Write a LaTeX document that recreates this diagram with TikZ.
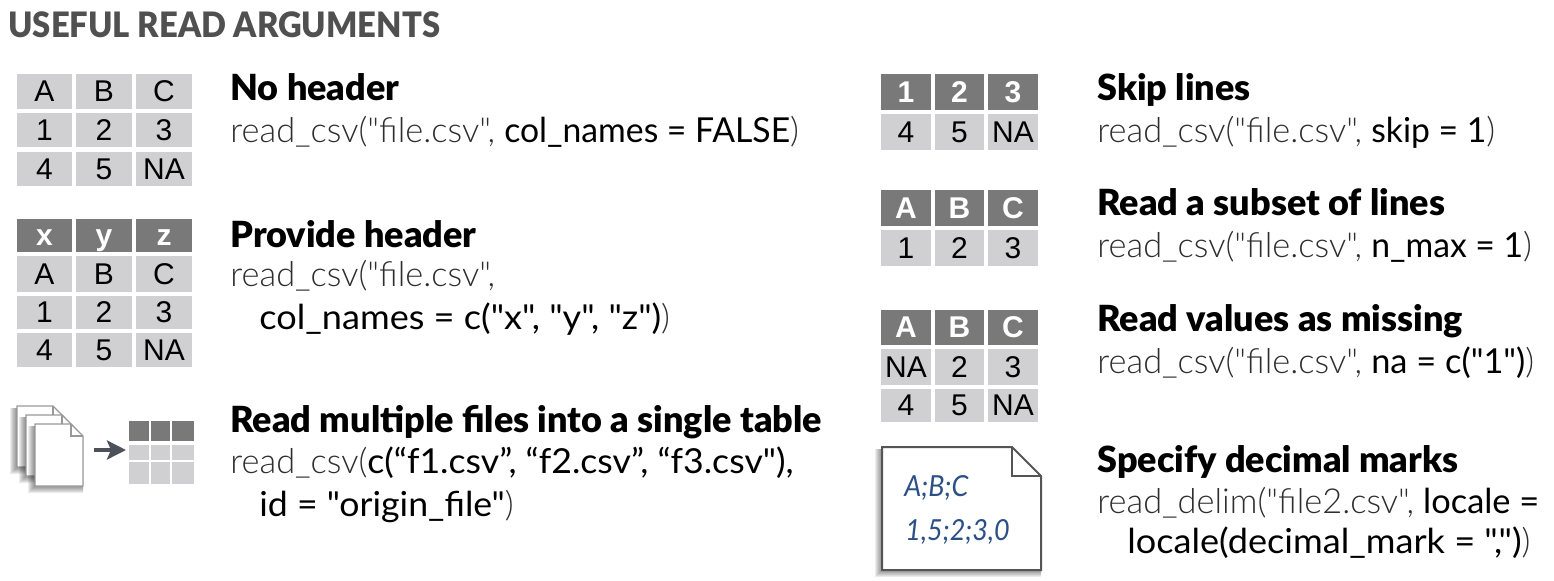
\documentclass[tikz,border=0pt]{standalone}
\usepackage{fontspec}
\usetikzlibrary{arrows.meta,calc}
\setmainfont{Lato}
\newfontfamily\cellf{Liberation Sans}
\newfontfamily\codelight{Lato Light}
\newfontfamily\coderegular{Lato}
\newfontfamily\coderegw[FakeStretch=1.05]{Lato}
\newfontfamily\coderegm[FakeStretch=1.037]{Lato}
\newfontfamily\coderegn[FakeStretch=0.98]{Lato}
\newfontfamily\notef[FakeStretch=0.93]{Lato}
\newfontfamily\headf[FakeStretch=1.0]{Lato Black}
\newfontfamily\titlef[FakeStretch=0.936]{Lato Black}
\definecolor{cellg}{HTML}{D0D0D2}
\definecolor{headg}{HTML}{797979}
\definecolor{lightink}{HTML}{2E2E2E}
\definecolor{titleg}{HTML}{505050}
\definecolor{noteblue}{HTML}{2A5085}
\definecolor{arrowg}{HTML}{4D525A}
\definecolor{pageline}{HTML}{999999}
\definecolor{noteline}{HTML}{555555}
\tikzset{
 x=0.5pt,y=-0.5pt,
 cellbody/.style={fill=cellg,text=black,font=\cellf\fontsize{15}{15}\selectfont},
 cellhead/.style={fill=headg,text=white,font=\cellf\bfseries\fontsize{15}{15}\selectfont},
 headtext/.style={anchor=base west,inner sep=0pt,font=\headf\fontsize{18}{18}\selectfont,text=black},
 codetext/.style={anchor=base west,inner sep=0pt,font=\codelight\fontsize{17.2}{17.2}\selectfont,text=lightink},
 notetext/.style={anchor=base west,inner sep=0pt,text=noteblue,font=\notef\itshape\fontsize{14.5}{14.5}\selectfont},
 pagepaper/.style={fill=white,line join=miter},
}
\newcommand{\reg}[1]{{\coderegular\color{black}#1}}
\newcommand{\regw}[1]{{\coderegw\color{black}#1}}
\newcommand{\regm}[1]{{\coderegm\color{black}#1}}
\newcommand{\regn}[1]{{\coderegn\color{black}#1}}
\newcommand{\cellbox}[7]{% name x0 y0 x1 y1 style text
 \fill[#6] (#2,#3) rectangle (#4,#5);
 \node[#6,fill=none,inner sep=0pt,anchor=center] (#1) at ({(#2+#4)/2},{(#3+#5)/2+4}) {\strut #7};}
\newcommand{\pageicon}[8]{% x0 y0 x1 y1 fold line-width colour shadow-size
 \foreach \k in {1,...,#8}{
  \fill[black,opacity=0.07] ({#1-\k},{#2+2}) -- ({#3-#5},{#2+2}) -- (#3,{#2+#5}) -- (#3,{#4+\k}) -- ({#1-\k},{#4+\k}) -- cycle;}
 \path[draw=#7,line width=#6,pagepaper] (#1,#2) -- ({#3-#5},#2) -- (#3,{#2+#5}) -- (#3,#4) -- (#1,#4) -- cycle;
 \path[draw=#7,line width=#6,line join=miter] ({#3-#5},#2) -- ({#3-#5},{#2+#5}) -- (#3,{#2+#5});}
\begin{document}
\begin{tikzpicture}
\useasboundingbox (0,0) rectangle (1554,580);
\node[anchor=base west,inner sep=0pt,font=\titlef\fontsize{17.5}{17.5}\selectfont,text=titleg] (title) at (8,37) {USEFUL READ ARGUMENTS};

% table 1
\cellbox{aa}{17}{74}{72}{109}{cellbody}{A}
\cellbox{ab}{76}{74}{132}{109}{cellbody}{B}
\cellbox{ac}{136}{74}{192}{109}{cellbody}{C}
\cellbox{ad}{17}{113}{72}{147}{cellbody}{1}
\cellbox{ae}{76}{113}{132}{147}{cellbody}{2}
\cellbox{af}{136}{113}{192}{147}{cellbody}{3}
\cellbox{ag}{17}{152}{72}{186}{cellbody}{4}
\cellbox{ah}{76}{152}{132}{186}{cellbody}{5}
\cellbox{ai}{136}{152}{192}{186}{cellbody}{NA}
\node[headtext] (h1) at (230,100) {No header};
\node[codetext] (c1) at (230,142) {read\_csv("file.csv", \regn{col\_names = FALSE})};

% table 2
\cellbox{ba}{17}{219}{72}{252}{cellhead}{x}
\cellbox{bb}{76}{219}{132}{252}{cellhead}{y}
\cellbox{bc}{136}{219}{192}{252}{cellhead}{z}
\cellbox{bd}{17}{256}{72}{292}{cellbody}{A}
\cellbox{be}{76}{256}{132}{292}{cellbody}{B}
\cellbox{bf}{136}{256}{192}{292}{cellbody}{C}
\cellbox{bg}{17}{296}{72}{329}{cellbody}{1}
\cellbox{bh}{76}{296}{132}{329}{cellbody}{2}
\cellbox{bi}{136}{296}{192}{329}{cellbody}{3}
\cellbox{bj}{17}{333}{72}{367}{cellbody}{4}
\cellbox{bk}{76}{333}{132}{367}{cellbody}{5}
\cellbox{bl}{136}{333}{192}{367}{cellbody}{NA}
\node[headtext] (h2) at (230,247) {Provide header};
\node[codetext] (c2) at (230,286) {read\_csv("file.csv",};
\node[codetext] (c2b) at (259,329) {\regw{col\_names = c("x", "y", "z")})};

% multiple files
\pageicon{17}{406}{65}{467}{12}{0.7pt}{pageline}{7}
\pageicon{26}{415}{74}{476}{12}{0.7pt}{pageline}{7}
\pageicon{35}{424}{83}{486}{12}{0.7pt}{pageline}{7}
\fill[headg] (129,421) rectangle (149,441);
\fill[headg] (151,421) rectangle (170,441);
\fill[headg] (172,421) rectangle (194,441);
\fill[cellg] (129,445) rectangle (149,460);
\fill[cellg] (151,445) rectangle (170,460);
\fill[cellg] (172,445) rectangle (194,460);
\fill[cellg] (129,462) rectangle (149,484);
\fill[cellg] (151,462) rectangle (170,484);
\fill[cellg] (172,462) rectangle (194,484);
\coordinate (arrs) at (94,450);
\coordinate (arre) at (126,450);
\draw[draw=arrowg,line width=2pt,-{Stealth[length=9.5pt,width=9.5pt,inset=2pt]}] (arrs) -- (arre);
\node[headtext] (h3) at (230,432) {Read multiple files into a single table};
\node[codetext] (c3) at (230,473) {read\_csv(\regm{c(“f1.csv”, “f2.csv”, “f3.csv"),}};
\node[codetext] (c3b) at (259,516) {\regm{id = "origin\_file"})};

% right tables
\cellbox{ca}{881}{74}{931}{110}{cellhead}{1}
\cellbox{cb}{935}{74}{984}{110}{cellhead}{2}
\cellbox{cc}{988}{74}{1038}{110}{cellhead}{3}
\cellbox{cd}{881}{114}{931}{150}{cellbody}{4}
\cellbox{ce}{935}{114}{984}{150}{cellbody}{5}
\cellbox{cf}{988}{114}{1038}{150}{cellbody}{NA}
\node[headtext] (h4) at (1097,100) {Skip lines};
\node[codetext] (c4) at (1097,142) {read\_csv("file.csv", \regn{skip = 1})};

\cellbox{da}{881}{190}{931}{226}{cellhead}{A}
\cellbox{db}{935}{190}{984}{226}{cellhead}{B}
\cellbox{dc}{988}{190}{1038}{226}{cellhead}{C}
\cellbox{dd}{881}{230}{931}{266}{cellbody}{1}
\cellbox{de}{935}{230}{984}{266}{cellbody}{2}
\cellbox{df}{988}{230}{1038}{266}{cellbody}{3}
\node[headtext] (h5) at (1097,215) {Read a subset of lines};
\node[codetext] (c5) at (1097,257) {read\_csv("file.csv", \regn{n\_max = 1})};

\cellbox{ea}{881}{310}{931}{345}{cellhead}{A}
\cellbox{eb}{935}{310}{984}{345}{cellhead}{B}
\cellbox{ec}{988}{310}{1038}{345}{cellhead}{C}
\cellbox{ed}{881}{349}{931}{385}{cellbody}{NA}
\cellbox{ee}{935}{349}{984}{385}{cellbody}{2}
\cellbox{ef}{988}{349}{1038}{385}{cellbody}{3}
\cellbox{eg}{881}{389}{931}{422}{cellbody}{4}
\cellbox{eh}{935}{389}{984}{422}{cellbody}{5}
\cellbox{ei}{988}{389}{1038}{422}{cellbody}{NA}
\node[headtext] (h6) at (1097,331) {Read values as missing};
\node[codetext] (c6) at (1097,373) {read\_csv("file.csv", \reg{na = c("1")})};

% note page
\pageicon{882}{447}{1041}{570}{29}{1pt}{noteline}{7}
\node[notetext] (n1) at (904,496) {A;B;C};
\node[notetext] (n2) at (905,540) {1,5;2;3,0};
\node[headtext] (h7) at (1097,472) {Specify decimal marks};
\node[codetext] (c7) at (1097,513) {read\_delim("file2.csv", \reg{locale =}};
\node[codetext] (c7b) at (1127,553) {\regw{locale(decimal\_mark = ",")})};
\end{tikzpicture}
\end{document}
